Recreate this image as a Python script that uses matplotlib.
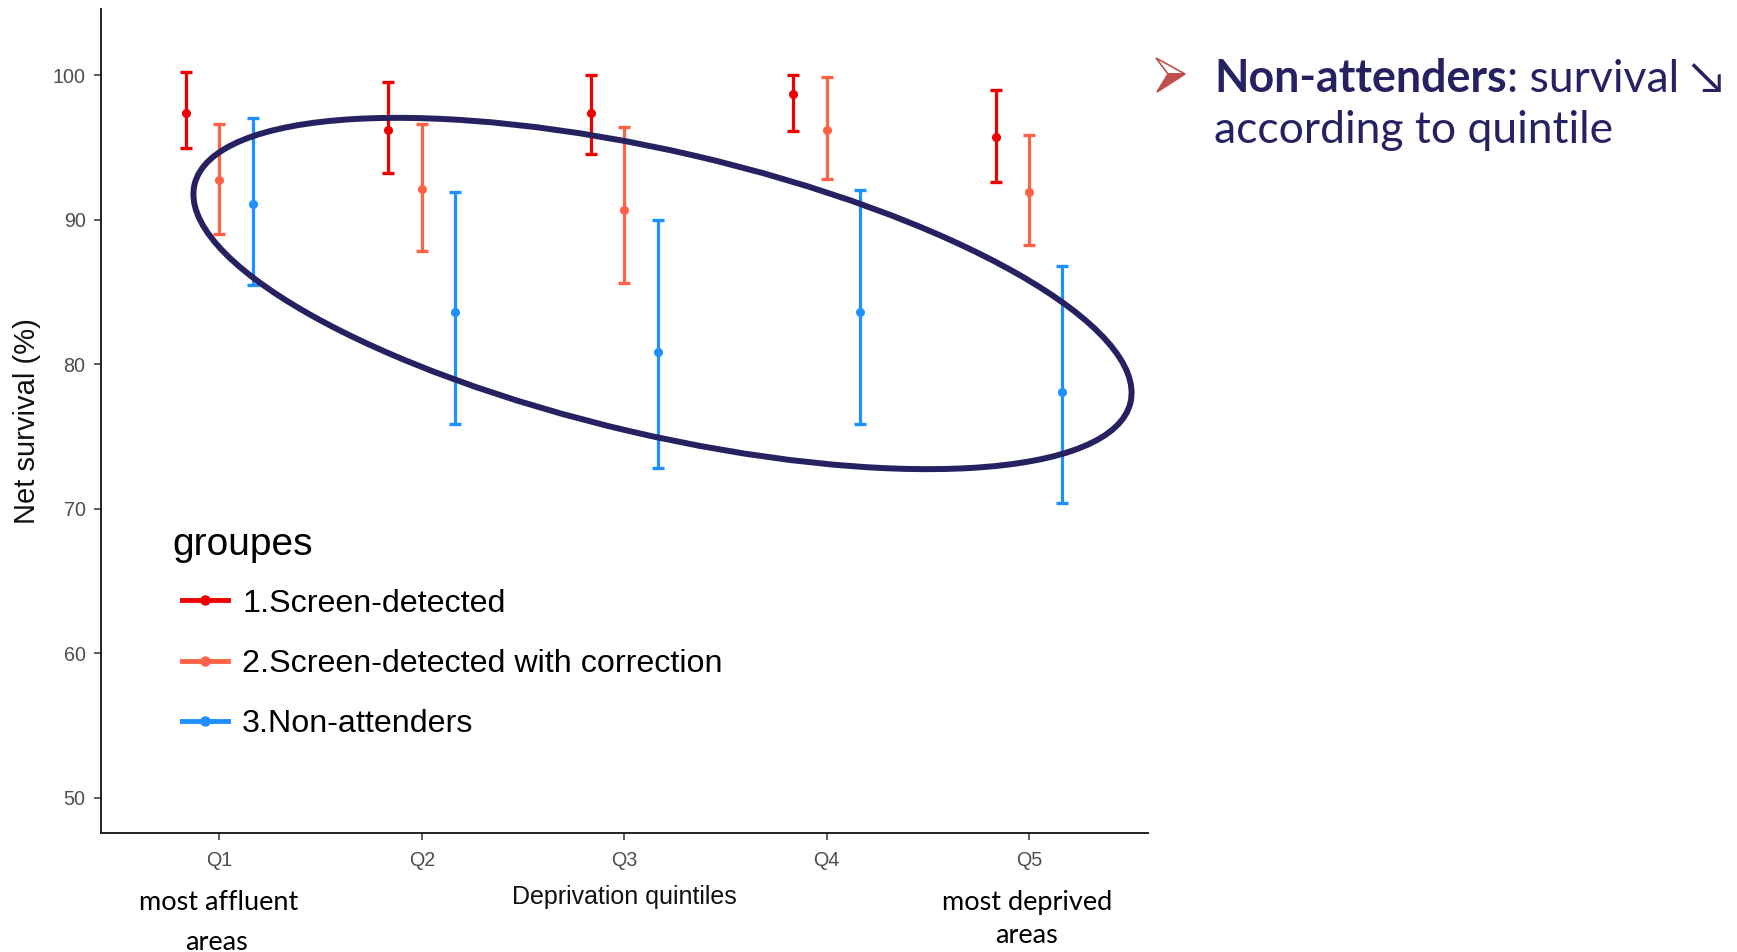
import numpy as np
import matplotlib.pyplot as plt
from matplotlib.lines import Line2D
from matplotlib.patches import Ellipse

# Valeurs (survie nette, %)
quintiles = ['Q1', 'Q2', 'Q3', 'Q4', 'Q5']
groupes = ['1.Screen-detected', '2.Screen-detected with correction', '3.Non-attenders']

screen_est = [97.4, 96.2, 97.4, 98.7, 95.7]
screen_low = [94.95, 93.25, 94.55, 96.15, 92.6]
screen_up = [100.2, 99.55, 100.05, 100.05, 99.0]

corr_est = [92.75, 92.1, 90.7, 96.2, 91.9]
corr_low = [89.05, 87.85, 85.6, 92.85, 88.25]
corr_up = [96.65, 96.65, 96.4, 99.9, 95.85]

non_est = [91.1, 83.6, 80.85, 83.6, 78.1]
non_low = [85.5, 75.9, 72.8, 75.9, 70.4]
non_up = [97.05, 91.9, 90.0, 92.05, 86.8]

couleurs = ['#EE0000', '#FF6347', '#1E90FF']
navy = '#262261'
rouge_puce = '#C0504D'

plt.rcParams['font.family'] = ['Liberation Sans', 'DejaVu Sans']

W, H = 1737, 952
fig = plt.figure(figsize=(W / 100, H / 100), dpi=100)
ax = fig.add_axes([100.8 / W, 1 - 833 / H, (1148 - 100.8) / W, (833 - 8.9) / H])

x = np.arange(1, len(quintiles) + 1)
series = [(screen_est, screen_low, screen_up),
          (corr_est, corr_low, corr_up),
          (non_est, non_low, non_up)]
decalages = [-0.165, 0.0, 0.165]

for (est, low, up), col, dx in zip(series, couleurs, decalages):
    est = np.array(est)
    yerr = [est - np.array(low), np.array(up) - est]
    ax.errorbar(x + dx, est, yerr=yerr, fmt='o', color=col, ms=5.5,
                elinewidth=2.3, capsize=4.3, capthick=2.4)

ax.set_xlim(0.414, 5.588)
ax.set_ylim(47.56, 104.6)
ax.set_yticks([50, 60, 70, 80, 90, 100])
ax.set_xticks(x, quintiles)
for s in ['top', 'right']:
    ax.spines[s].set_visible(False)
for s in ['left', 'bottom']:
    ax.spines[s].set_color('#222222')
    ax.spines[s].set_linewidth(1.4)
ax.tick_params(colors='#333333', length=5, width=1.1, labelsize=14.2,
               labelcolor='#4D4D4D')
ax.tick_params(axis='y', pad=6)
ax.tick_params(axis='x', pad=8)
ax.set_xlabel('Deprivation quintiles', fontsize=18, labelpad=11, color='#111111')
ax.set_ylabel('Net survival (%)', fontsize=21, labelpad=8, color='#111111')

# Légende (le titre est posé à part, un peu plus à gauche que les clés)
poignees = [Line2D([], [], color=c, lw=3.5, marker='o', ms=6.5) for c in couleurs]
ax.legend(poignees, groupes, loc='center left',
          bbox_to_anchor=(182 / W, 1 - 664 / H), bbox_transform=fig.transFigure,
          frameon=False, fontsize=23.2,
          handlelength=1.42, handletextpad=0.45, labelspacing=0.94,
          borderpad=0, borderaxespad=0)

# Calque en pixels pour les annotations de la diapositive
ov = fig.add_axes([0, 0, 1, 1], zorder=5)
ov.set_xlim(0, W)
ov.set_ylim(H, 0)
ov.axis('off')

ov.text(172.7, 555, 'groupes', fontsize=28, color='black', va='baseline')

ov.add_patch(Ellipse((662.5, 293.5), 961, 283, angle=13.1, fill=False,
                     ec=navy, lw=4.3))

# Puce en forme de pointe de flèche
ov.fill([1156, 1185, 1168], [58, 74, 74], facecolor='white',
        edgecolor=rouge_puce, lw=1.2)
ov.fill([1168, 1185, 1157], [74, 74, 92], facecolor=rouge_puce,
        edgecolor=rouge_puce, lw=1.2)

t1 = ov.text(1214, 92, 'Non-attenders', family='Lato', fontweight='bold',
             fontsize=32.2, color=navy, va='baseline')
fig.canvas.draw()
bb = t1.get_window_extent()
ov.text(bb.x1, 92, ': survival \u2198', family=['Lato', 'DejaVu Sans'],
        fontsize=32, color=navy, va='baseline')
ov.text(1214, 143, 'according to quintile', family='Lato', fontsize=32,
        color=navy, va='baseline')

ov.text(219, 910, 'most affluent', family='Lato', fontsize=19.5, ha='center',
        va='baseline', color='black')
ov.text(216, 950, 'areas', family='Lato', fontsize=19.5, ha='center',
        va='baseline', color='black')
ov.text(1027.5, 910, 'most deprived', family='Lato', fontsize=19.5, ha='center',
        va='baseline', color='black')
ov.text(1027, 943, 'areas', family='Lato', fontsize=19.5, ha='center',
        va='baseline', color='black')

fig.savefig('out.png', dpi=100)
